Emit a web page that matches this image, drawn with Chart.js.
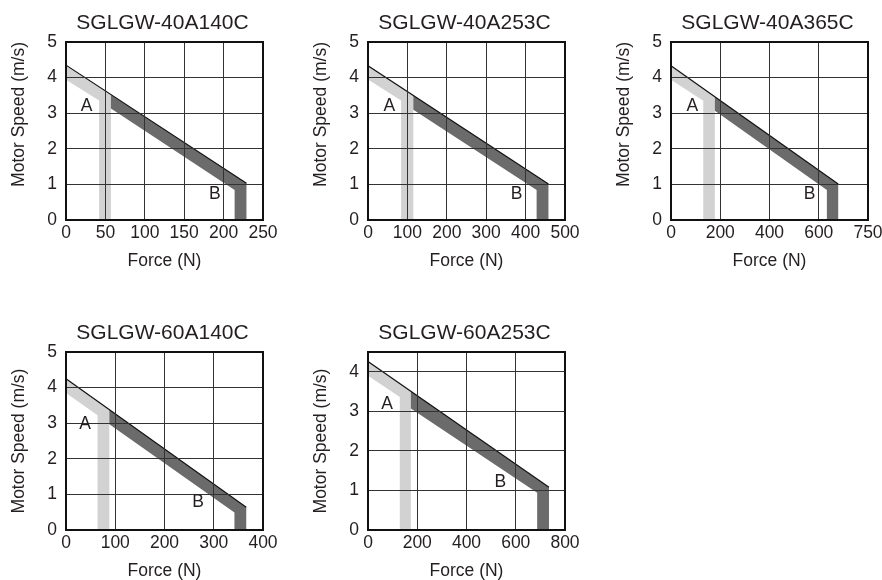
<!DOCTYPE html>
<html>
<head>
<meta charset="utf-8">
<title>SGLGW force-speed characteristics</title>
<script src="https://cdn.jsdelivr.net/npm/chart.js@4.4.0/dist/chart.umd.min.js"></script>
<style>
    html, body { margin: 0; padding: 0; background: #fff; }
    body { width: 882px; height: 580px; position: relative; overflow: hidden; }
    canvas { position: absolute; }
</style>
</head>
<body>
<canvas id="c1" width="290" height="274" style="left:0px;top:0px"></canvas>
<canvas id="c2" width="290" height="274" style="left:302px;top:0px"></canvas>
<canvas id="c3" width="290" height="274" style="left:605px;top:0px"></canvas>
<canvas id="c4" width="290" height="274" style="left:0px;top:310px"></canvas>
<canvas id="c5" width="290" height="274" style="left:302px;top:310px"></canvas>
<script>
// model names
var titles = ['SGLGW-40A140C', 'SGLGW-40A253C', 'SGLGW-40A365C', 'SGLGW-60A140C', 'SGLGW-60A253C'];

// tick values and labels
var xTicks1 = [0, 50, 100, 150, 200, 250];
var xTicks2 = [0, 100, 200, 300, 400, 500];
var xTicks3 = [0, 200, 400, 600, 800];
var xLabels3 = ['0', '200', '400', '600', '750'];
var xTicks4 = [0, 100, 200, 300, 400];
var xTicks5 = [0, 200, 400, 600, 800];
var yTicks = [0, 1, 2, 3, 4, 5];
var yTicks5 = [0, 1, 2, 3, 4];

// [force N, speed m/s] outlines: A = continuous band, B = intermittent band
var bandA1 = [[0, 4.35], [57, 3.52], [57, 0], [42, 0], [42, 3.36], [0, 3.94]];
var bandB1 = [[57, 3.52], [229, 1.03], [229, 0], [214, 0], [214, 0.84], [57, 3.13]];
var edge1 = [[0, 4.35], [229, 1.03]];

var bandA2 = [[0, 4.33], [115, 3.50], [115, 0], [84, 0], [84, 3.36], [0, 3.95]];
var bandB2 = [[115, 3.50], [458, 1.01], [458, 0], [428, 0], [428, 0.84], [115, 3.10]];
var edge2 = [[0, 4.33], [458, 1.01]];

var bandA3 = [[0, 4.33], [178, 3.46], [178, 0], [131, 0], [131, 3.35], [0, 3.94]];
var bandB3 = [[178, 3.46], [679, 1.01], [679, 0], [633, 0], [633, 0.84], [178, 3.07]];
var edge3 = [[0, 4.33], [679, 1.01]];

var bandA4 = [[0, 4.25], [88, 3.38], [88, 0], [64, 0], [64, 3.22], [0, 3.85]];
var bandB4 = [[88, 3.38], [366, 0.64], [366, 0], [342, 0], [342, 0.49], [88, 2.97]];
var edge4 = [[0, 4.25], [366, 0.64]];

var bandA5 = [[0, 4.26], [174, 3.51], [174, 0], [129, 0], [129, 3.36], [0, 3.90]];
var bandB5 = [[174, 3.51], [735, 1.08], [735, 0], [687, 0], [687, 0.94], [174, 3.07]];
var edge5 = [[0, 4.26], [735, 1.08]];

// where the "A" and "B" letters sit, in data units
var markA = [[26, 3.2], [54, 3.2], [87, 3.2], [39, 2.97], [78, 3.19]];
var markB = [[189, 0.73], [377, 0.73], [563, 0.73], [268, 0.79], [537, 1.2]];

var FONT = '"Liberation Sans", Arial, Helvetica, sans-serif';
var INK = '#231f20';

function toPts(arr) {
    return arr.map(function (p) { return { x: p[0], y: p[1] }; });
}

function makeChart(n, xTicks, xLabels, yVals, yMax, bandA, bandB, edge) {
    var ctx = document.getElementById('c' + n).getContext('2d');
    var i = n - 1;

    // frame, chart title and the A / B letters
    var extras = {
        id: 'extras' + n,
        afterDraw: function (chart) {
            var c = chart.ctx, a = chart.chartArea;
            var xs = chart.scales.x, ys = chart.scales.y;
            c.save();
            c.strokeStyle = '#111';
            c.lineWidth = 2;
            c.strokeRect(a.left, a.top, a.right - a.left, a.bottom - a.top);
            c.fillStyle = INK;
            c.textAlign = 'center';
            c.textBaseline = 'middle';
            c.font = '21px ' + FONT;
            c.fillText(titles[i], (a.left + a.right) / 2 - 2, a.top - 19);
            c.font = '17.5px ' + FONT;
            c.fillText('A', xs.getPixelForValue(markA[i][0]), ys.getPixelForValue(markA[i][1]));
            c.fillText('B', xs.getPixelForValue(markB[i][0]), ys.getPixelForValue(markB[i][1]));
            c.restore();
        }
    };

    return new Chart(ctx, {
        type: 'scatter',
        data: {
            datasets: [{
                data: toPts(edge),
                showLine: true,
                borderColor: '#111',
                borderWidth: 1.2,
                pointRadius: 0,
                fill: false,
                order: 0
            }, {
                data: toPts(bandB),
                showLine: true,
                borderColor: 'rgba(0,0,0,0)',
                borderWidth: 0,
                backgroundColor: '#6b6b6b',
                pointRadius: 0,
                fill: 'shape',
                order: 1
            }, {
                data: toPts(bandA),
                showLine: true,
                borderColor: 'rgba(0,0,0,0)',
                borderWidth: 0,
                backgroundColor: '#d2d2d2',
                pointRadius: 0,
                fill: 'shape',
                order: 2
            }]
        },
        options: {
            responsive: false,
            animation: false,
            layout: { padding: { top: 42, left: 0, right: 27, bottom: 0 } },
            scales: {
                x: {
                    type: 'linear',
                    min: xTicks[0],
                    max: xTicks[xTicks.length - 1],
                    afterBuildTicks: function (s) {
                        s.ticks = xTicks.map(function (v) { return { value: v }; });
                    },
                    afterFit: function (s) { s.height = 54; },
                    grid: { color: '#333', lineWidth: 1, drawTicks: false, z: 1 },
                    border: { display: false },
                    ticks: {
                        padding: 3,
                        maxRotation: 0,
                        autoSkip: false,
                        color: INK,
                        font: { family: FONT, size: 17.5 },
                        callback: function (v, idx) { return xLabels ? xLabels[idx] : String(v); }
                    },
                    title: {
                        display: true,
                        text: 'Force (N)',
                        color: INK,
                        font: { family: FONT, size: 17.5 },
                        padding: { top: 0, bottom: 2 }
                    }
                },
                y: {
                    type: 'linear',
                    min: 0,
                    max: yMax,
                    afterBuildTicks: function (s) {
                        s.ticks = yVals.map(function (v) { return { value: v }; });
                    },
                    afterFit: function (s) { s.width = 66; },
                    grid: { color: '#333', lineWidth: 1, drawTicks: false, z: 1 },
                    border: { display: false },
                    ticks: {
                        padding: 9,
                        color: INK,
                        font: { family: FONT, size: 17.5 }
                    },
                    title: {
                        display: true,
                        text: 'Motor Speed (m/s)',
                        align: n <= 3 ? 'end' : 'center',
                        color: INK,
                        font: { family: FONT, size: 17.5 },
                        padding: { top: 9, bottom: 0 }
                    }
                }
            },
            plugins: {
                legend: { display: false },
                tooltip: { enabled: false }
            }
        },
        plugins: [extras]
    });
}

document.addEventListener('DOMContentLoaded', function () {
    makeChart(1, xTicks1, null, yTicks, 5, bandA1, bandB1, edge1);
    makeChart(2, xTicks2, null, yTicks, 5, bandA2, bandB2, edge2);
    makeChart(3, xTicks3, xLabels3, yTicks, 5, bandA3, bandB3, edge3);
    makeChart(4, xTicks4, null, yTicks, 5, bandA4, bandB4, edge4);
    makeChart(5, xTicks5, null, yTicks5, 4.5, bandA5, bandB5, edge5);
});
</script>
</body>
</html>
